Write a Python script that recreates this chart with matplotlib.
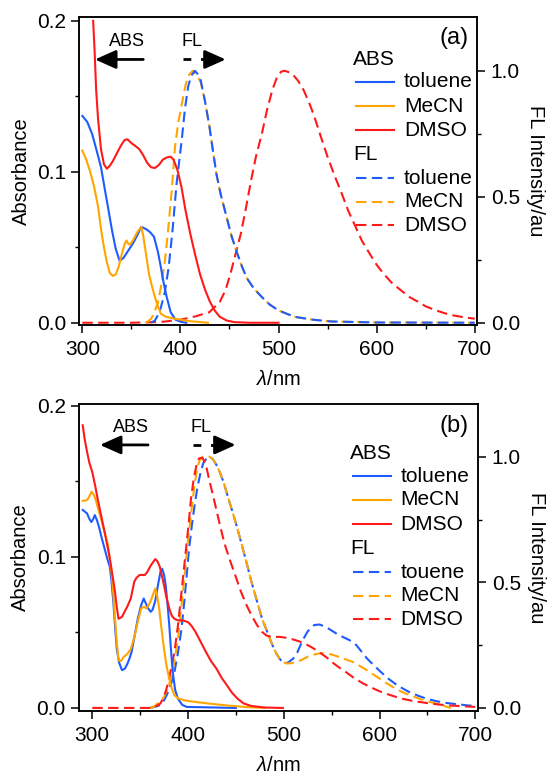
import matplotlib
matplotlib.use("Agg")
import matplotlib.pyplot as plt
from matplotlib.ticker import MultipleLocator, FormatStrFormatter

plt.rcParams['font.family'] = ['Liberation Sans', 'DejaVu Sans']
plt.rcParams['mathtext.fontset'] = 'custom'
plt.rcParams['mathtext.it'] = 'Liberation Sans:italic'
plt.rcParams['mathtext.rm'] = 'Liberation Sans'

BLUE = '#1f5cff'
ORANGE = '#ffa500'
RED = '#ff1a1a'

# ---------------- Panel (a) data ----------------
a_abs_tol_x = [300, 305, 310, 315, 319, 323, 326, 330, 334, 338, 342, 347, 352, 356, 360, 365, 369, 373, 377, 380, 383, 386, 390, 395, 401, 406]
a_abs_tol_y = [0.137, 0.133, 0.125, 0.113, 0.103, 0.088, 0.077, 0.062, 0.049, 0.041, 0.043, 0.048, 0.053, 0.058, 0.0635, 0.062, 0.060, 0.057, 0.047, 0.037, 0.026, 0.017, 0.007, 0.002, 0.0005, 0.0]

a_abs_mecn_x = [300, 304, 308, 312, 316, 319, 322, 325, 328, 331, 334, 337, 340, 343, 345, 347, 349, 352, 356, 360, 362, 365, 368, 371, 374, 377, 380, 385, 394, 410, 428]
a_abs_mecn_y = [0.114, 0.108, 0.100, 0.090, 0.077, 0.062, 0.050, 0.040, 0.033, 0.031, 0.032, 0.037, 0.045, 0.052, 0.0545, 0.052, 0.052, 0.055, 0.060, 0.0635, 0.058, 0.045, 0.032, 0.024, 0.017, 0.011, 0.006, 0.004, 0.0027, 0.001, 0.0]

a_abs_dmso_x = [311, 312.5, 314, 316, 319, 322, 325, 328, 331, 335, 339, 343, 346, 350, 355, 358, 362, 366, 370, 374, 378, 382, 386, 390, 393, 397, 401, 405, 410, 415, 420, 425, 430, 435, 440, 447, 455, 470, 500]
a_abs_dmso_y = [0.2, 0.18, 0.155, 0.135, 0.115, 0.105, 0.102, 0.104, 0.107, 0.112, 0.117, 0.121, 0.1215, 0.119, 0.1166, 0.115, 0.111, 0.106, 0.103, 0.1025, 0.1045, 0.108, 0.1095, 0.110, 0.108, 0.101, 0.090, 0.075, 0.059, 0.045, 0.032, 0.022, 0.014, 0.008, 0.004, 0.0015, 0.0004, 0.0, 0.0]

a_fl_tol_x = [370, 374, 377, 380, 384, 388, 392, 396, 399, 401.3, 404.6, 408, 411, 414.7, 418, 420.6, 425, 429.5, 433, 436.7, 441, 447, 452, 458, 463, 468, 475, 483, 491, 500, 510, 518, 535, 554, 600, 700]
a_fl_tol_y = [0.0, 0.009, 0.03, 0.06, 0.12, 0.22, 0.37, 0.55, 0.65, 0.725, 0.85, 0.94, 0.98, 1.0, 0.985, 0.963, 0.88, 0.78, 0.685, 0.59, 0.51, 0.42, 0.345, 0.274, 0.22, 0.175, 0.135, 0.102, 0.072, 0.049, 0.033, 0.0225, 0.012, 0.005, 0.001, 0.0]

a_fl_mecn_x = [365, 370, 373, 377, 380, 384, 387, 391, 394.5, 398, 401, 405, 408, 412.5, 417, 420.6, 425, 429.5, 433, 436.7, 441, 447, 452, 458, 463, 468, 475, 483, 491, 500, 510, 518, 535, 554, 600, 700]
a_fl_mecn_y = [0.0, 0.015, 0.036, 0.08, 0.14, 0.24, 0.35, 0.52, 0.70, 0.80, 0.86, 0.94, 0.98, 1.0, 0.98, 0.955, 0.88, 0.78, 0.685, 0.59, 0.51, 0.42, 0.345, 0.274, 0.22, 0.175, 0.135, 0.102, 0.072, 0.049, 0.033, 0.0225, 0.012, 0.005, 0.001, 0.0]

a_fl_dmso_x = [300, 350, 380, 400, 415, 429.5, 440, 446, 451, 456, 461.6, 467, 472, 477, 483, 488, 493.6, 498, 502.5, 506, 510, 515, 520, 525.6, 531, 536, 543, 550, 557, 564.4, 571, 578.6, 585, 592.9, 600, 607, 615, 625, 633, 642.7, 650, 660.5, 670, 678.3, 690, 700]
a_fl_dmso_y = [0.0, 0.0, 0.003, 0.012, 0.025, 0.042, 0.082, 0.13, 0.195, 0.27, 0.354, 0.46, 0.565, 0.66, 0.75, 0.84, 0.923, 0.97, 0.996, 1.0, 0.995, 0.983, 0.96, 0.923, 0.875, 0.824, 0.74, 0.658, 0.585, 0.513, 0.445, 0.38, 0.325, 0.274, 0.23, 0.195, 0.16, 0.128, 0.103, 0.082, 0.065, 0.049, 0.037, 0.029, 0.021, 0.016]

# ---------------- Panel (b) data ----------------
b_abs_tol_x = [290, 294.5, 297, 299, 301, 302.6, 305, 307.3, 310, 312.8, 315.5, 318.3, 320, 322, 324, 325.6, 328, 331, 334, 336.5, 339, 341, 344, 347.5, 351, 353.7, 356, 358.4, 361, 363, 365.8, 368.5, 371.2, 373, 375, 376.7, 378.5, 380.4, 382, 384, 386.5, 389.5, 394, 398.6, 450]
b_abs_tol_y = [0.131, 0.1287, 0.125, 0.123, 0.125, 0.1276, 0.124, 0.119, 0.112, 0.1055, 0.099, 0.0934, 0.084, 0.070, 0.052, 0.039, 0.030, 0.025, 0.026, 0.029, 0.033, 0.037, 0.047, 0.059, 0.068, 0.0724, 0.069, 0.0658, 0.0636, 0.065, 0.071, 0.081, 0.090, 0.092, 0.088, 0.081, 0.069, 0.0547, 0.040, 0.0238, 0.012, 0.006, 0.002, 0.0007, 0.0]

b_abs_mecn_x = [290, 294.5, 297, 299.3, 301.5, 303.7, 306, 309, 312.5, 316.4, 320, 322, 323.7, 325.5, 327.4, 330, 332.9, 337, 340.2, 344, 347.5, 351, 354, 356.6, 359, 362, 364, 365.8, 367.5, 369.4, 372, 374.9, 377.5, 380.4, 383, 385.8, 390, 396.8, 410, 422, 440, 459, 480]
b_abs_mecn_y = [0.137, 0.1375, 0.140, 0.143, 0.141, 0.1375, 0.132, 0.1254, 0.117, 0.1077, 0.090, 0.075, 0.059, 0.044, 0.0316, 0.031, 0.0338, 0.036, 0.039, 0.047, 0.057, 0.0658, 0.067, 0.0658, 0.068, 0.0724, 0.076, 0.079, 0.075, 0.068, 0.054, 0.039, 0.028, 0.0194, 0.013, 0.0084, 0.0062, 0.005, 0.0038, 0.0029, 0.0017, 0.0007, 0.0]

b_abs_dmso_x = [290, 292, 294.5, 297, 300, 303, 305.5, 309, 312.8, 315.5, 318.3, 321, 323.7, 325.5, 327.4, 329, 331, 334, 336.5, 340.2, 342, 343.8, 346, 349.3, 352, 354.8, 357.5, 360.3, 363, 365.8, 368, 370.5, 372.5, 374.9, 377.5, 380.4, 383, 385.8, 389, 393.2, 397, 400.5, 404, 407.8, 413, 418.7, 424, 429.7, 435, 440.6, 446, 451.6, 458, 466.2, 480, 499]
b_abs_dmso_y = [0.187, 0.178, 0.1695, 0.162, 0.156, 0.147, 0.1386, 0.128, 0.1166, 0.108, 0.099, 0.088, 0.0768, 0.067, 0.059, 0.0595, 0.0603, 0.064, 0.067, 0.0724, 0.078, 0.0834, 0.086, 0.0879, 0.088, 0.0879, 0.090, 0.0934, 0.096, 0.0985, 0.097, 0.0934, 0.088, 0.0812, 0.073, 0.0658, 0.061, 0.059, 0.058, 0.058, 0.0575, 0.0565, 0.054, 0.0503, 0.044, 0.037, 0.031, 0.026, 0.020, 0.015, 0.010, 0.0062, 0.003, 0.0013, 0.0003, 0.0]

b_fl_tol_x = [360, 364, 371, 374.9, 378.5, 382.2, 385.8, 389.5, 393.2, 396, 398.6, 401, 404, 407, 409.6, 413.2, 416, 418.7, 422.4, 426, 429.7, 433, 437, 440.5, 444.3, 450, 455.3, 461, 466.2, 472, 477.2, 483, 488.1, 492, 495.4, 498, 500.9, 505, 510, 514, 517.4, 521, 524.7, 528, 532, 537.4, 542, 546.6, 552, 557.6, 563, 568.5, 572, 575.8, 581, 586.8, 594, 601.4, 608, 616, 623, 630.6, 640, 648.9, 658, 667.1, 676, 685.4, 692, 700]
b_fl_tol_y = [0.0, 0.003, 0.011, 0.03, 0.057, 0.095, 0.143, 0.22, 0.316, 0.42, 0.529, 0.63, 0.728, 0.81, 0.874, 0.94, 0.975, 0.99, 1.0, 0.99, 0.967, 0.94, 0.9, 0.855, 0.807, 0.735, 0.661, 0.58, 0.502, 0.425, 0.356, 0.3, 0.25, 0.218, 0.197, 0.185, 0.177, 0.182, 0.197, 0.22, 0.25, 0.278, 0.303, 0.318, 0.33, 0.332, 0.325, 0.316, 0.303, 0.29, 0.28, 0.27, 0.262, 0.25, 0.225, 0.197, 0.17, 0.143, 0.12, 0.097, 0.08, 0.064, 0.049, 0.037, 0.028, 0.021, 0.017, 0.013, 0.01, 0.008]

b_fl_mecn_x = [360, 364, 369, 374.9, 378.5, 382.2, 386, 389.5, 393, 396.8, 400, 403.4, 406.5, 409.6, 412, 415, 418, 422.4, 426, 429.7, 433, 437, 440.5, 444.3, 450, 455.3, 461, 466.2, 472, 477.2, 483, 488.1, 492, 495.4, 499, 502.7, 508, 513.7, 519, 524.7, 530, 535.6, 541, 546.6, 552, 557.6, 565, 572.1, 579, 586.8, 596, 605, 614, 623.3, 632, 641.5, 650, 659.8, 667, 674.4]
b_fl_mecn_y = [0.0, 0.004, 0.02, 0.044, 0.075, 0.117, 0.19, 0.276, 0.40, 0.542, 0.67, 0.78, 0.88, 0.953, 0.985, 1.0, 1.0, 1.0, 0.99, 0.967, 0.94, 0.9, 0.855, 0.807, 0.735, 0.661, 0.58, 0.502, 0.425, 0.356, 0.3, 0.25, 0.218, 0.197, 0.184, 0.177, 0.178, 0.183, 0.192, 0.203, 0.211, 0.216, 0.218, 0.216, 0.21, 0.203, 0.193, 0.183, 0.168, 0.15, 0.127, 0.104, 0.083, 0.064, 0.05, 0.037, 0.026, 0.017, 0.008, 0.0]

b_fl_dmso_x = [300, 360, 365, 371, 375, 378.5, 382, 385.8, 389.5, 393.2, 397, 400.5, 403, 406, 409, 411.4, 415, 418.7, 422, 426, 429.5, 433.3, 438, 444.3, 450, 455.3, 461, 466.2, 472, 477.2, 482, 488, 495.4, 501, 506.4, 512, 517.4, 523, 528.3, 534, 539.3, 545, 550.2, 557, 564.8, 573, 583, 592, 601.4, 612, 623.3, 632, 641.5, 652, 663.5, 672, 681.7, 690, 700]
b_fl_dmso_y = [0.0, 0.0, 0.003, 0.017, 0.045, 0.09, 0.15, 0.223, 0.33, 0.462, 0.60, 0.728, 0.83, 0.914, 0.97, 0.993, 0.996, 0.967, 0.91, 0.847, 0.79, 0.728, 0.655, 0.582, 0.52, 0.462, 0.41, 0.369, 0.33, 0.303, 0.288, 0.282, 0.283, 0.28, 0.276, 0.27, 0.263, 0.254, 0.243, 0.23, 0.216, 0.20, 0.183, 0.163, 0.143, 0.12, 0.097, 0.08, 0.064, 0.05, 0.037, 0.03, 0.024, 0.018, 0.013, 0.01, 0.008, 0.006, 0.004]

solvents = ['toluene', 'MeCN', 'DMSO']
fl_labels_a = ['toluene', 'MeCN', 'DMSO']
fl_labels_b = ['touene', 'MeCN', 'DMSO']
colors = [BLUE, ORANGE, RED]

FS_TICK = 15
FS_LEG = 15
FS_LAB = 14.5
LW = 1.5
DASH = (5, 2.6)

fig = plt.figure(figsize=(5.47, 7.74), dpi=100)


def style_axes(ax, ax2, xlim, ylim, y2lim, xlab_y):
    ax.set_xlim(*xlim)
    ax.set_ylim(*ylim)
    ax2.set_ylim(*y2lim)
    ax.xaxis.set_major_locator(MultipleLocator(100))
    ax.xaxis.set_minor_locator(MultipleLocator(50))
    ax.yaxis.set_major_locator(MultipleLocator(0.1))
    ax.yaxis.set_minor_locator(MultipleLocator(0.05))
    ax2.yaxis.set_major_locator(MultipleLocator(0.5))
    ax2.yaxis.set_minor_locator(MultipleLocator(0.25))
    ax.yaxis.set_major_formatter(FormatStrFormatter('%.1f'))
    ax2.yaxis.set_major_formatter(FormatStrFormatter('%.1f'))
    for a in (ax, ax2):
        for s in a.spines.values():
            s.set_linewidth(1.1)
        a.tick_params(which='major', direction='out', length=6, width=1.1, labelsize=FS_TICK, pad=3.5)
        a.tick_params(which='minor', direction='out', length=3, width=1.0)
    ax.tick_params(axis='x', which='major', pad=5)
    ax.tick_params(top=False, right=False, which='both')
    ax2.tick_params(axis='y', which='major', pad=4)
    ax.set_xlabel(r'$\mathit{\lambda}$/nm', fontsize=FS_LAB)
    ax.set_ylabel('Absorbance', fontsize=FS_LAB)
    ax2.set_ylabel('FL Intensity/au', fontsize=FS_LAB, rotation=270)
    ax.yaxis.set_label_coords(-0.122, 0.5)
    ax2.yaxis.set_label_coords(1.17, 0.5)
    ax.xaxis.set_label_coords(0.5, xlab_y)


def legend_block(ax, hx, lx0, lx1, tx, ys, fl_labels):
    ax.text(hx, ys[0], 'ABS', transform=ax.transAxes, fontsize=FS_LEG, va='center', ha='left')
    for i in range(3):
        ax.plot([lx0, lx1], [ys[1 + i]] * 2, transform=ax.transAxes, color=colors[i], lw=LW, clip_on=False)
        ax.text(tx, ys[1 + i], solvents[i], transform=ax.transAxes, fontsize=FS_LEG, va='center', ha='left')
    ax.text(hx, ys[4], 'FL', transform=ax.transAxes, fontsize=FS_LEG, va='center', ha='left')
    for i in range(3):
        ax.plot([lx0, lx1], [ys[5 + i]] * 2, transform=ax.transAxes, color=colors[i], lw=LW,
                dashes=DASH, clip_on=False)
        ax.text(tx, ys[5 + i], fl_labels[i], transform=ax.transAxes, fontsize=FS_LEG, va='center', ha='left')


def arrows(ax, abs_tip, abs_tail, abs_tx, fl_start, fl_base, fl_tip, fl_tx, y, ty):
    hs = 'head_length=0.85,head_width=0.38'
    ax.annotate('', xy=(abs_tip, y), xytext=(abs_tail, y),
                arrowprops=dict(arrowstyle='-|>,' + hs, mutation_scale=15, lw=2, color='k',
                                shrinkA=0, shrinkB=0))
    ax.text(abs_tx, ty, 'ABS', fontsize=13, ha='center', va='center')
    ax.plot([fl_start, fl_base], [y, y], color='k', lw=2, dashes=(2.8, 3.5),
            dash_capstyle='butt')
    ax.annotate('', xy=(fl_tip, y), xytext=(fl_base - 0.5, y),
                arrowprops=dict(arrowstyle='-|>,' + hs, mutation_scale=15, lw=2, color='k',
                                shrinkA=0, shrinkB=0))
    ax.text(fl_tx, ty, 'FL', fontsize=13, ha='center', va='center')


# ---------------- Panel (a) ----------------
ax1 = fig.add_axes([0.145, 0.5801, 0.727, 0.3975])
ax2 = ax1.twinx()
ax1.plot(a_abs_tol_x, a_abs_tol_y, color=BLUE, lw=LW)
ax1.plot(a_abs_mecn_x, a_abs_mecn_y, color=ORANGE, lw=LW)
ax1.plot(a_abs_dmso_x, a_abs_dmso_y, color=RED, lw=LW)
ax2.plot(a_fl_dmso_x, a_fl_dmso_y, color=RED, lw=LW, dashes=DASH)
ax2.plot(a_fl_mecn_x, a_fl_mecn_y, color=ORANGE, lw=LW, dashes=DASH)
ax2.plot(a_fl_tol_x, a_fl_tol_y, color=BLUE, lw=LW, dashes=DASH)
ax1.set_zorder(ax2.get_zorder() + 1)
ax1.patch.set_visible(False)
style_axes(ax1, ax2, (296.9, 702.3), (-0.0015, 0.2023), (-0.009, 1.212), -0.146)
legend_block(ax1, 0.688, 0.6955, 0.7911, 0.8163,
             [0.8645, 0.7907, 0.7117, 0.6337, 0.5557, 0.4768, 0.4007, 0.325], fl_labels_a)
ax1.text(0.98, 0.933, '(a)', transform=ax1.transAxes, fontsize=17, ha='right', va='center')
arrows(ax1, 312.9, 362.1, 345, 402.9, 428.4, 446.1, 411.8, 0.1744, 0.1866)

# ---------------- Panel (b) ----------------
ax3 = fig.add_axes([0.1444, 0.0818, 0.7294, 0.3963])
ax4 = ax3.twinx()
ax3.plot(b_abs_tol_x, b_abs_tol_y, color=BLUE, lw=LW)
ax3.plot(b_abs_mecn_x, b_abs_mecn_y, color=ORANGE, lw=LW)
ax3.plot(b_abs_dmso_x, b_abs_dmso_y, color=RED, lw=LW)
ax4.plot(b_fl_tol_x, b_fl_tol_y, color=BLUE, lw=LW, dashes=DASH)
ax4.plot(b_fl_mecn_x, b_fl_mecn_y, color=ORANGE, lw=LW, dashes=DASH)
ax4.plot(b_fl_dmso_x, b_fl_dmso_y, color=RED, lw=LW, dashes=DASH)
ax3.set_zorder(ax4.get_zorder() + 1)
ax3.patch.set_visible(False)
style_axes(ax3, ax4, (286.1, 702.8), (-0.0018, 0.2011), (-0.011, 1.21), -0.148)
legend_block(ax3, 0.679, 0.6867, 0.7815, 0.806,
             [0.8393, 0.7637, 0.6877, 0.6078, 0.5295, 0.4513, 0.375, 0.298], fl_labels_b)
ax3.text(0.977, 0.929, '(b)', transform=ax3.transAxes, fontsize=17, ha='right', va='center')
arrows(ax3, 308.0, 358.2, 340.9, 404.8, 431.6, 449.7, 413.3, 0.174, 0.1856)

fig.savefig('out.png', dpi=100)
